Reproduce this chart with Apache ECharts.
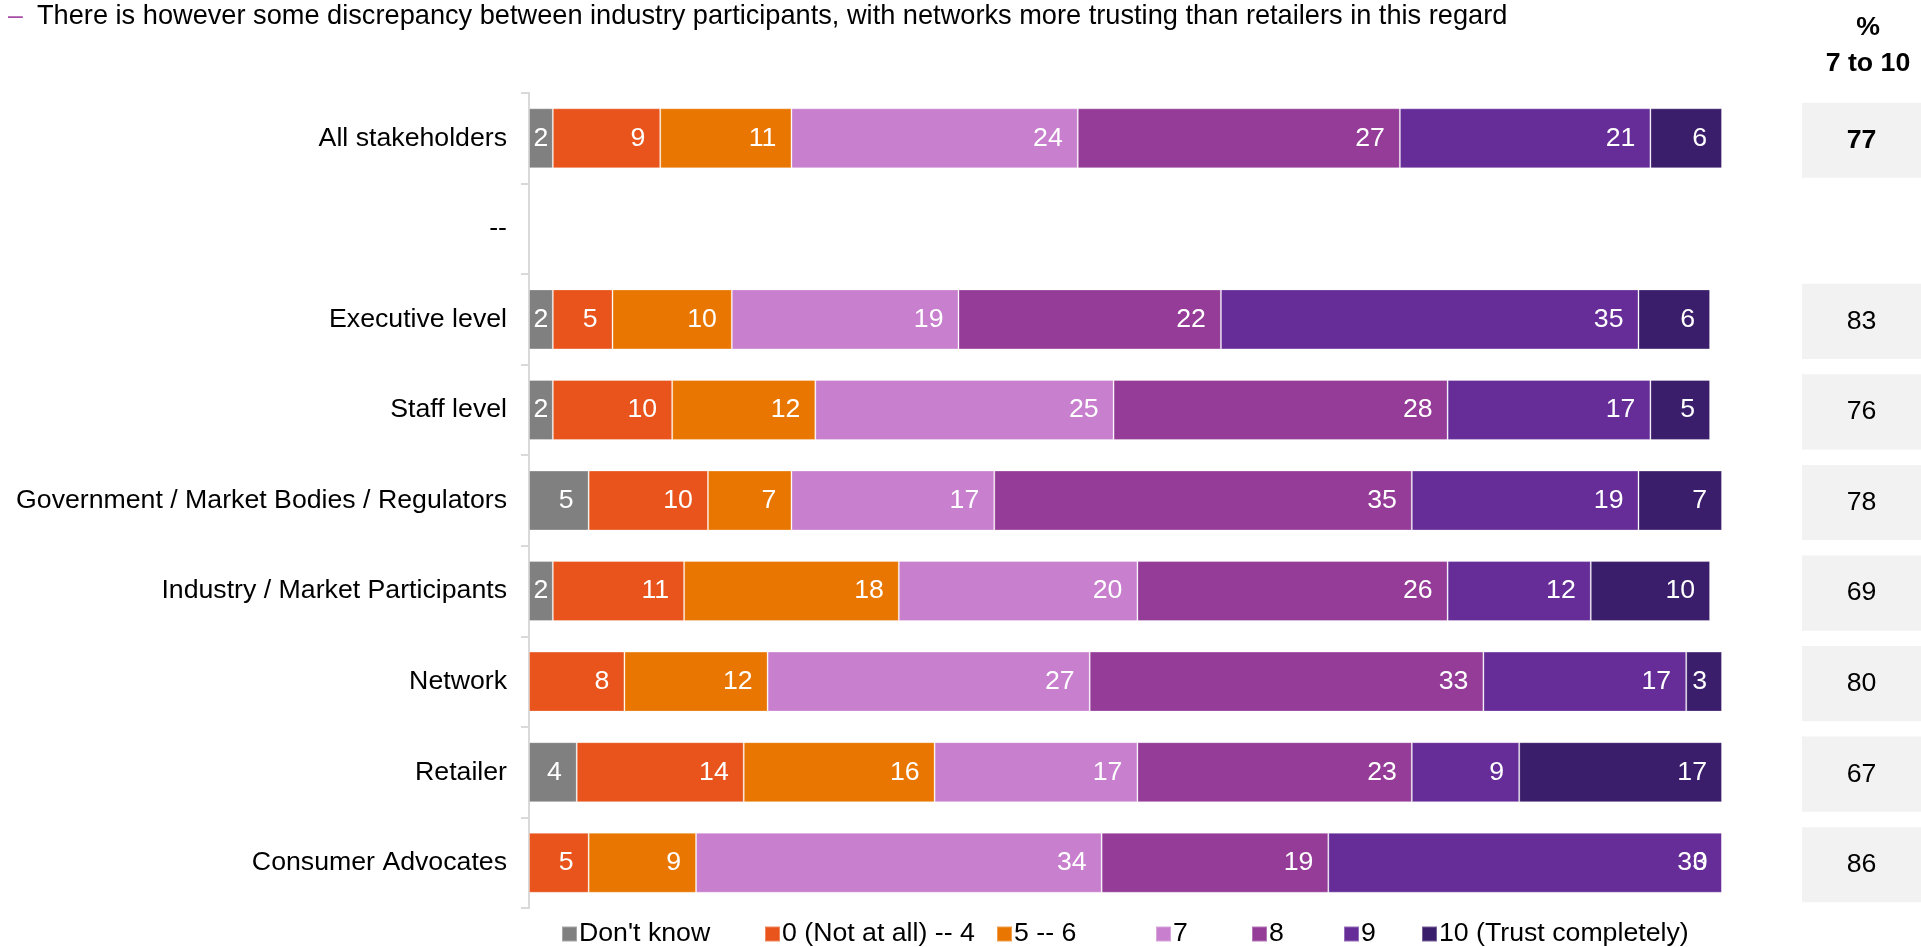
<!DOCTYPE html>
<html>
<head>
<meta charset="utf-8">
<style>
  html, body { margin: 0; padding: 0; background: #fff; }
  #chart { width: 1921px; height: 947px; }
</style>
<script src="https://cdn.jsdelivr.net/npm/echarts@6/dist/echarts.min.js"></script>
</head>
<body>
<div id="chart"></div>
<script>
// Trust ratings by stakeholder group (% of respondents)
const categories = [
  'All stakeholders',
  '--',
  'Executive level',
  'Staff level',
  'Government / Market Bodies / Regulators',
  'Industry / Market Participants',
  'Network',
  'Retailer',
  'Consumer Advocates'
];
const dontKnow  = [2, null, 2, 2, 5, 2, null, 4, null];
const notAtAll  = [9, null, 5, 10, 10, 11, 8, 14, 5];
const fiveSix   = [11, null, 10, 12, 7, 18, 12, 16, 9];
const seven     = [24, null, 19, 25, 17, 20, 27, 17, 34];
const eight     = [27, null, 22, 28, 35, 26, 33, 23, 19];
const nine      = [21, null, 35, 17, 19, 12, 17, 9, 33];
const ten       = [6, null, 6, 5, 7, 10, 3, 17, 0];
const sevenToTen = [77, null, 83, 76, 78, 69, 80, 67, 86];

const seriesNames = ["Don't know", '0 (Not at all) -- 4', '5 -- 6', '7', '8', '9', '10 (Trust completely)'];
const seriesValues = [dontKnow, notAtAll, fiveSix, seven, eight, nine, ten];
const seriesColors = ['#808080', '#e8541b', '#e97600', '#c77fce', '#943c98', '#662d99', '#3b1e6b'];

const FONT = '"Liberation Sans", Arial, sans-serif';
const FS = 26.7;

const chart = echarts.init(document.getElementById('chart'), null, { renderer: 'canvas' });

// Narrow segments get their label centred so it stays inside the bar
function toItems(values) {
  return values.map(v => {
    if (v == null) return null;
    if (v > 0 && v <= 2) return { value: v, label: { position: 'inside' } };
    return v;
  });
}

const barSeries = seriesNames.map((name, k) => ({
  name,
  type: 'bar',
  stack: 'total',
  xAxisIndex: 0,
  yAxisIndex: 0,
  barWidth: 60,
  data: toItems(seriesValues[k]),
  itemStyle: { color: seriesColors[k], borderColor: 'rgba(255,255,255,0.3)', borderWidth: 1 },
  label: {
    show: true,
    position: 'insideRight',
    distance: 15,
    color: '#fff',
    fontFamily: FONT,
    fontSize: FS,
    formatter: p => (p.value == null ? '' : String(p.value))
  },
  emphasis: { disabled: true },
  silent: true
}));

// Right-hand "% 7 to 10" column, one grey box per category row
const boxData = [];
sevenToTen.forEach((v, i) => { if (v != null) boxData.push([0, categories[i], v, i === 0 ? 1 : 0]); });

const boxSeries = {
  type: 'custom',
  xAxisIndex: 1,
  yAxisIndex: 1,
  data: boxData,
  encode: { x: 0, y: 1 },
  silent: true,
  renderItem: (params, api) => {
    const pt = api.coord([0, api.value(1)]);
    const band = api.size([0, 1])[1];
    const h = band * 0.83;
    const cs = params.coordSys;
    return {
      type: 'group',
      children: [
        { type: 'rect', shape: { x: cs.x, y: pt[1] - h / 2 + 2, width: cs.width, height: h }, style: { fill: '#f2f2f2' } },
        {
          type: 'text',
          style: {
            text: String(api.value(2)),
            x: cs.x + cs.width / 2,
            y: pt[1] + 2,
            align: 'center',
            verticalAlign: 'middle',
            fontFamily: FONT,
            fontSize: FS,
            fontWeight: api.value(3) ? 'bold' : 'normal',
            fill: '#000'
          }
        }
      ]
    };
  }
};

const legendLefts = [561, 764, 996, 1155, 1251, 1343, 1421];

const option = {
  animation: false,
  backgroundColor: '#fff',
  grid: [
    { left: 529, right: 199, top: 93, height: 815, containLabel: false },
    { left: 1802, width: 132, top: 93, height: 815, containLabel: false }
  ],
  xAxis: [
    { type: 'value', min: 0, max: 100, show: false, gridIndex: 0 },
    { type: 'value', min: 0, max: 1, show: false, gridIndex: 1 }
  ],
  yAxis: [
    {
      type: 'category',
      gridIndex: 0,
      data: categories,
      inverse: true,
      axisLine: { show: true, lineStyle: { color: '#d9d9d9', width: 2 } },
      axisTick: { show: true, length: 8, lineStyle: { color: '#d9d9d9', width: 2 } },
      axisLabel: { color: '#000', fontFamily: FONT, fontSize: FS, margin: 22 },
      splitLine: { show: false }
    },
    { type: 'category', gridIndex: 1, data: categories, inverse: true, show: false }
  ],
  legend: seriesNames.map((name, k) => ({
    data: [name],
    left: legendLefts[k],
    top: 919,
    icon: 'rect',
    itemWidth: 15,
    itemHeight: 15,
    itemGap: 0,
    padding: 0,
    selectedMode: false,
    textStyle: { color: '#000', fontFamily: FONT, fontSize: FS, padding: [0, 0, 0, -3], lineHeight: 30 }
  })),
  graphic: [
    {
      type: 'text', left: 8, top: 3,
      style: { text: '–', fill: '#a64ca6', fontFamily: FONT, fontSize: FS }
    },
    {
      type: 'text', left: 37, top: 3,
      style: {
        text: 'There is however some discrepancy between industry participants, with networks more trusting than retailers in this regard',
        fill: '#000', fontFamily: FONT, fontSize: 27.2
      }
    },
    {
      type: 'text', x: 1868, y: 28,
      style: { text: '%', fill: '#000', fontFamily: FONT, fontSize: FS, fontWeight: 'bold', align: 'center', verticalAlign: 'middle' }
    },
    {
      type: 'text', x: 1868, y: 64,
      style: { text: '7 to 10', fill: '#000', fontFamily: FONT, fontSize: FS, fontWeight: 'bold', align: 'center', verticalAlign: 'middle' }
    }
  ],
  series: [...barSeries, boxSeries]
};

chart.setOption(option);
</script>
</body>
</html>
